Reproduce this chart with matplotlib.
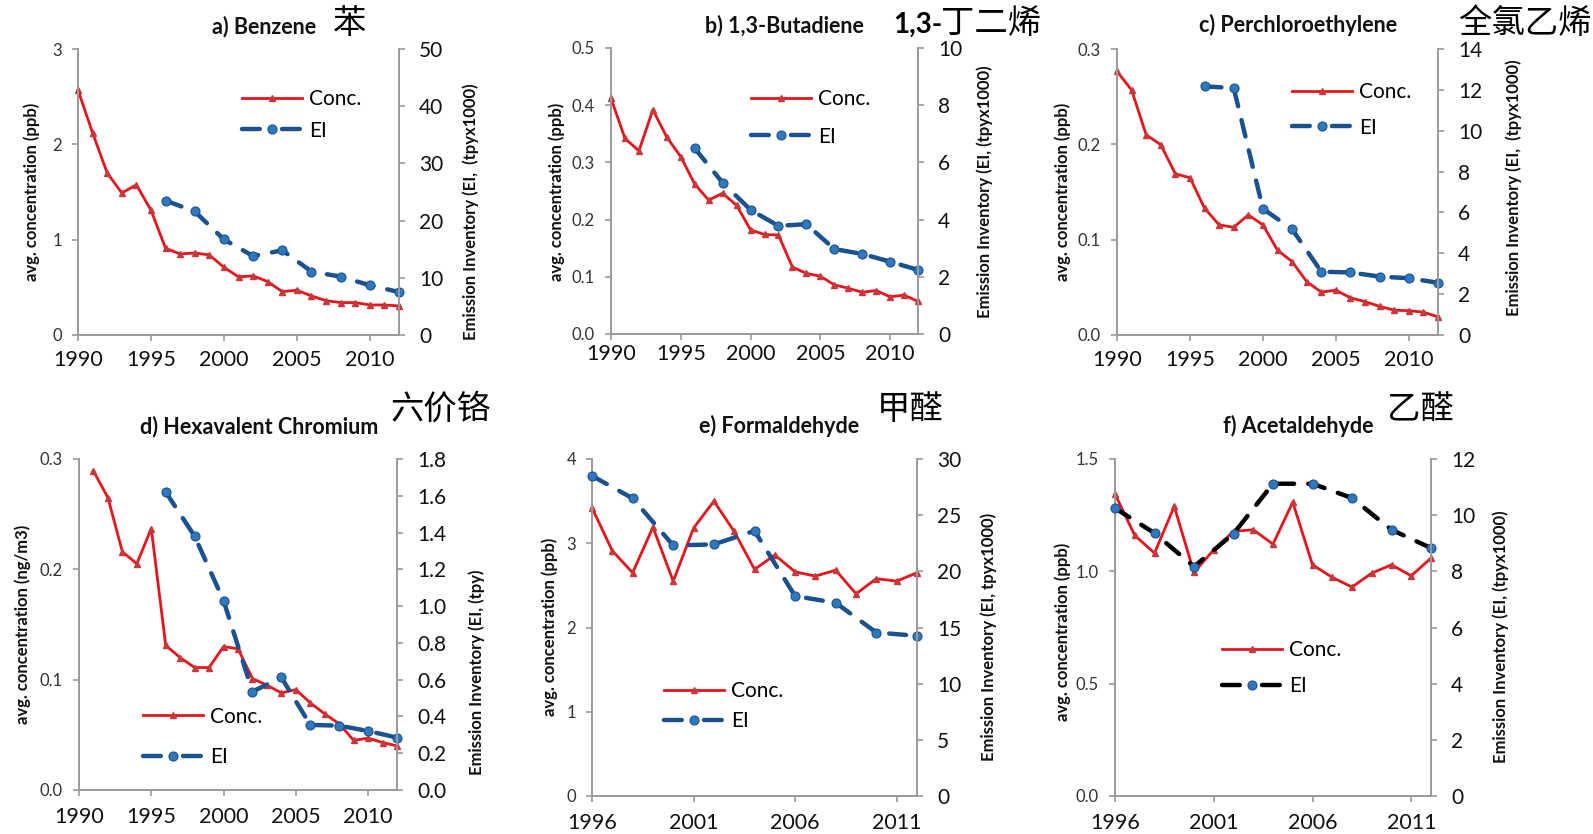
import matplotlib.pyplot as plt
from matplotlib.lines import Line2D

plt.rcParams['font.family'] = ['Lato', 'Noto Sans CJK SC', 'DejaVu Sans']

# years
years_90 = list(range(1990, 2013))
years_91 = list(range(1991, 2013))
years_96 = list(range(1996, 2013))
ei_years = [1996, 1998, 2000, 2002, 2004, 2006, 2008, 2010, 2012]

# a) Benzene (ppb / tpy x1000)
benzene_conc = [2.57, 2.12, 1.70, 1.49, 1.575, 1.31, 0.91, 0.85, 0.86, 0.84, 0.71, 0.61,
                0.62, 0.56, 0.455, 0.47, 0.41, 0.36, 0.34, 0.34, 0.315, 0.315, 0.305]
benzene_ei = [23.5, 21.6, 16.7, 13.8, 14.8, 11.1, 10.2, 8.7, 7.5]

# b) 1,3-Butadiene
butadiene_conc = [0.412, 0.342, 0.320, 0.392, 0.344, 0.310, 0.262, 0.234, 0.246, 0.225, 0.182,
                  0.174, 0.173, 0.117, 0.106, 0.101, 0.086, 0.080, 0.073, 0.076, 0.065, 0.068, 0.057]
butadiene_ei = [6.49, 5.29, 4.34, 3.78, 3.84, 2.97, 2.80, 2.53, 2.24]

# c) Perchloroethylene
perc_conc = [0.2765, 0.257, 0.210, 0.1995, 0.169, 0.165, 0.133, 0.1155, 0.113, 0.126, 0.1155,
             0.089, 0.077, 0.056, 0.045, 0.047, 0.039, 0.035, 0.030, 0.026, 0.0255, 0.024, 0.019]
perc_ei = [12.17, 12.09, 6.18, 5.18, 3.10, 3.06, 2.86, 2.78, 2.56]

# d) Hexavalent Chromium (ng/m3 / tpy), conc starts 1991
chrom_conc = [0.289, 0.265, 0.216, 0.205, 0.237, 0.131, 0.120, 0.111, 0.111, 0.130, 0.128,
              0.101, 0.095, 0.088, 0.091, 0.079, 0.069, 0.060, 0.045, 0.047, 0.043, 0.040]
chrom_ei = [1.62, 1.38, 1.03, 0.535, 0.612, 0.354, 0.350, 0.321, 0.285]

# e) Formaldehyde
formal_conc = [3.42, 2.91, 2.65, 3.19, 2.55, 3.18, 3.50, 3.14, 2.69, 2.86, 2.66, 2.61, 2.68,
               2.40, 2.58, 2.55, 2.65]
formal_ei = [28.5, 26.5, 22.3, 22.4, 23.6, 17.8, 17.2, 14.55, 14.26]

# f) Acetaldehyde
acet_conc = [1.344, 1.160, 1.081, 1.289, 0.995, 1.096, 1.178, 1.185, 1.121, 1.308, 1.029,
             0.973, 0.930, 0.992, 1.029, 0.980, 1.059]
acet_ei = [10.25, 9.36, 8.17, 9.34, 11.12, 11.12, 10.61, 9.48, 8.83]

W, H = 1593, 834
fig = plt.figure(figsize=(W / 100, H / 100), dpi=100)

RED = '#e8141c'
RED_MK = '#c8383a'
BLUE = '#1a5190'
BLUE_MK = '#2f78bb'
GREY = '#9a9a9a'


def fx(x):
    return x / W


def fy(y):
    return 1 - y / H


panels = [
    dict(box=(78, 399, 49, 335), x=years_90, conc=benzene_conc, ei=benzene_ei,
         ylim=3, yticks=[0, 1, 2, 3], yfmt='{:.0f}', y2lim=50, y2ticks=[0, 10, 20, 30, 40, 50],
         y2fmt='{:.0f}', xlim=(1990, 2012), xticks=[1990, 1995, 2000, 2005, 2010], xpad=7,
         title='a) Benzene', title_xy=(264, 33), ylab='avg. concentration (ppb)', ylab_xy=(32, 192),
         y2lab='Emission Inventory (EI,  (tpyx1000)', y2lab_xy=(471, 212),
         leg_xy=(242, 115), leg_sp=0.55, ei_color=BLUE),
    dict(box=(611, 918, 48, 334), x=years_90, conc=butadiene_conc, ei=butadiene_ei,
         ylim=0.5, yticks=[0, 0.1, 0.2, 0.3, 0.4, 0.5], yfmt='{:.1f}', y2lim=10,
         y2ticks=[0, 2, 4, 6, 8, 10], y2fmt='{:.0f}', xlim=(1990, 2012),
         xticks=[1990, 1995, 2000, 2005, 2010], xpad=3,
         title='b) 1,3-Butadiene', title_xy=(784, 32), ylab='avg. concentration (ppb)',
         ylab_xy=(557, 192), y2lab='Emission Inventory (EI, (tpyx1000)', y2lab_xy=(985, 192),
         leg_xy=(751, 118), leg_sp=0.84, ei_color=BLUE),
    dict(box=(1117, 1438, 49, 335), x=years_90, conc=perc_conc, ei=perc_ei,
         ylim=0.3, yticks=[0, 0.1, 0.2, 0.3], yfmt='{:.1f}', y2lim=14,
         y2ticks=[0, 2, 4, 6, 8, 10, 12, 14], y2fmt='{:.0f}', xlim=(1990, 2012),
         xticks=[1990, 1995, 2000, 2005, 2010], xpad=7,
         title='c) Perchloroethylene', title_xy=(1298, 32), ylab='avg. concentration (ppb)',
         ylab_xy=(1063, 192), y2lab='Emission Inventory (EI,  (tpyx1000)', y2lab_xy=(1514, 188),
         leg_xy=(1292, 110), leg_sp=0.72, ei_color=BLUE),
    dict(box=(79, 397, 459, 790), x=years_91, conc=chrom_conc, ei=chrom_ei,
         ylim=0.3, yticks=[0, 0.1, 0.2, 0.3], yfmt='{:.1f}', y2lim=1.8,
         y2ticks=[0, 0.2, 0.4, 0.6, 0.8, 1.0, 1.2, 1.4, 1.6, 1.8], y2fmt='{:.1f}',
         xlim=(1990, 2012), xticks=[1990, 1995, 2000, 2005, 2010], xpad=8,
         title='d) Hexavalent Chromium', title_xy=(259, 433),
         ylab='avg. concentration (ng/m3)', ylab_xy=(23, 624),
         y2lab='Emission Inventory (EI, (tpy)', y2lab_xy=(477, 672),
         leg_xy=(143, 737), leg_sp=1.0, ei_color=BLUE),
    dict(box=(592, 917, 459, 796), x=years_96, conc=formal_conc, ei=formal_ei,
         ylim=4, yticks=[0, 1, 2, 3, 4], yfmt='{:.0f}', y2lim=30,
         y2ticks=[0, 5, 10, 15, 20, 25, 30], y2fmt='{:.0f}', xlim=(1996, 2012),
         xticks=[1996, 2001, 2006, 2011], xpad=8.5,
         title='e) Formaldehyde', title_xy=(779, 433), ylab='avg. concentration (ppb)',
         ylab_xy=(550, 627), y2lab='Emission Inventory (EI, tpyx1000)', y2lab_xy=(989, 637),
         leg_xy=(664, 706), leg_sp=0.5, ei_color=BLUE),
    dict(box=(1115, 1431, 459, 796), x=years_96, conc=acet_conc, ei=acet_ei,
         ylim=1.5, yticks=[0, 0.5, 1.0, 1.5], yfmt='{:.1f}', y2lim=12,
         y2ticks=[0, 2, 4, 6, 8, 10, 12], y2fmt='{:.0f}', xlim=(1996, 2012),
         xticks=[1996, 2001, 2006, 2011], xpad=8.5,
         title='f) Acetaldehyde', title_xy=(1298, 433), ylab='avg. concentration (ppb)',
         ylab_xy=(1063, 632), y2lab='Emission Inventory (EI, (tpyx1000)', y2lab_xy=(1501, 637),
         leg_xy=(1222, 668), leg_sp=0.78, ei_color='#000000'),
]

for p in panels:
    x0, x1, yt, yb = p['box']
    ax = fig.add_axes([fx(x0), fy(yb), (x1 - x0) / W, (yb - yt) / H])
    ax2 = ax.twinx()

    conc_line, = ax.plot(p['x'], p['conc'], color=RED, lw=2.0, marker='^', ms=5,
                         mfc=RED_MK, mec=RED_MK, clip_on=False, label='Conc.')
    ax2.plot(ei_years, p['ei'], color=p['ei_color'], lw=3.2, dashes=(3.8, 3.2),
             dash_capstyle='round', marker='o', ms=6.5, mfc=BLUE_MK, mec=BLUE,
             mew=0.8, clip_on=False, label='EI')
    # legend key drawn like the spreadsheet one: dash - dot - dash
    ei_key = Line2D([], [], color=p['ei_color'], lw=3.2, dashes=(4.0, 5.0),
                    dash_capstyle='round', marker='o', ms=6.5, mfc=BLUE_MK, mec=BLUE, mew=0.8)

    ax.set_xlim(*p['xlim'])
    ax.set_ylim(0, p['ylim'])
    ax2.set_ylim(0, p['y2lim'])
    ax.set_xticks(p['xticks'])
    ax.set_xticklabels([str(t) for t in p['xticks']])
    ax.set_yticks(p['yticks'])
    ax.set_yticklabels([p['yfmt'].format(t) for t in p['yticks']])
    ax2.set_yticks(p['y2ticks'])
    ax2.set_yticklabels([p['y2fmt'].format(t) for t in p['y2ticks']])

    for a in (ax, ax2):
        a.spines['top'].set_visible(False)
        for s in a.spines.values():
            s.set_color(GREY)
            s.set_linewidth(1.4)
        a.patch.set_visible(False)
    ax.spines['right'].set_visible(False)
    ax2.spines['left'].set_visible(False)
    ax2.spines['bottom'].set_visible(False)

    ax.tick_params(axis='y', direction='out', length=4, width=1.2, color=GREY,
                   labelsize=12, labelcolor='#333333', pad=7.5)
    ax.tick_params(axis='x', direction='out', length=4, width=1.2, color=GREY,
                   labelsize=15.5, labelcolor='#111111', pad=p['xpad'])
    ax2.tick_params(axis='y', direction='out', length=4, width=1.2, color=GREY,
                    labelsize=15, labelcolor='#111111', pad=10.5)

    lx, ly = p['leg_xy']
    ax2.legend([conc_line, ei_key], ['Conc.', 'EI'], loc='center left',
               bbox_to_anchor=(fx(lx), fy(ly)), bbox_transform=fig.transFigure,
               frameon=False, fontsize=15, handlelength=2.9, handletextpad=0.3,
               borderpad=0, borderaxespad=0, labelspacing=p['leg_sp'], numpoints=1)

    tx, ty = p['title_xy']
    fig.text(fx(tx), fy(ty), p['title'], ha='center', va='baseline', fontsize=15.5,
             fontweight='bold', color='#111111')
    lx, ly = p['ylab_xy']
    fig.text(fx(lx), fy(ly), p['ylab'], rotation=90, ha='center', va='center',
             fontsize=12, fontweight='bold', color='#111111')
    rx, ry = p['y2lab_xy']
    fig.text(fx(rx), fy(ry), p['y2lab'], rotation=90, ha='center', va='center',
             fontsize=12, fontweight='bold', color='#111111')

# Chinese names
cjk = ['Noto Sans CJK SC']
fig.text(fx(333), fy(33), '苯', fontsize=24, family=cjk, ha='left', va='baseline')
fig.text(fx(893), fy(33), '1,3-', fontsize=20, fontweight='bold', ha='left', va='baseline')
fig.text(fx(941), fy(33), '丁二烯', fontsize=24, family=cjk, ha='left', va='baseline')
fig.text(fx(1458), fy(33), '全氯乙烯', fontsize=24, family=cjk, ha='left', va='baseline')
fig.text(fx(391), fy(419), '六价铬', fontsize=24, family=cjk, ha='left', va='baseline')
fig.text(fx(877), fy(419), '甲醛', fontsize=24, family=cjk, ha='left', va='baseline')
fig.text(fx(1387), fy(419), '乙醛', fontsize=24, family=cjk, ha='left', va='baseline')

fig.savefig('out.png', dpi=100)
